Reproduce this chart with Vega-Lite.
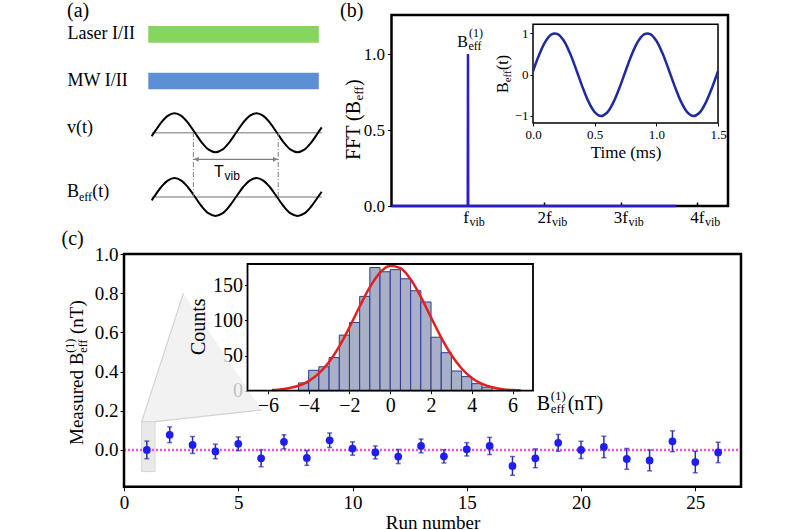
{
"$schema": "https://vega.github.io/schema/vega-lite/v6.json",
"width": 800, "height": 530, "autosize": "none", "padding": 0, "background": "white",
"config": {"font": "Liberation Serif", "view": {"stroke": null}, "text": {"font": "Liberation Serif", "color": "black"},
  "axis": {"grid": false, "domain": false, "labelFont": "Liberation Serif", "titleFont": "Liberation Serif", "labelColor": "black", "titleColor": "black", "tickColor": "black", "titleFontWeight": "normal", "labelFlush": false, "labelOverlap": false}},
"resolve": {"scale": {"x": "independent", "y": "independent", "color": "independent"}, "axis": {"x": "independent", "y": "independent"}},
"data": {"values": [{}]},
"datasets": {
 "sineA": [{"t":-0.028,"s":-0.175},{"t":0,"s":0},{"t":0.0833,"s":0.5},{"t":0.1667,"s":0.866},{"t":0.25,"s":1},{"t":0.3333,"s":0.866},{"t":0.4167,"s":0.5},{"t":0.5,"s":0},{"t":0.5833,"s":-0.5},{"t":0.6667,"s":-0.866},{"t":0.75,"s":-1},{"t":0.8333,"s":-0.866},{"t":0.9167,"s":-0.5},{"t":1,"s":0},{"t":1.0833,"s":0.5},{"t":1.1667,"s":0.866},{"t":1.25,"s":1},{"t":1.3333,"s":0.866},{"t":1.4167,"s":0.5},{"t":1.5,"s":0},{"t":1.5833,"s":-0.5},{"t":1.6667,"s":-0.866},{"t":1.75,"s":-1},{"t":1.8333,"s":-0.866},{"t":1.9167,"s":-0.5},{"t":2,"s":0},{"t":2.045,"s":0.279}],
 "sineB": [{"t":0,"b":0.084},{"t":0.05,"b":0.482},{"t":0.1,"b":0.797},{"t":0.15,"b":0.974},{"t":0.2,"b":0.982},{"t":0.25,"b":0.822},{"t":0.3,"b":0.517},{"t":0.35,"b":0.125},{"t":0.4,"b":-0.289},{"t":0.45,"b":-0.653},{"t":0.5,"b":-0.904},{"t":0.55,"b":-1.0},{"t":0.6,"b":-0.921},{"t":0.65,"b":-0.682},{"t":0.7,"b":-0.327},{"t":0.75,"b":0.084},{"t":0.8,"b":0.482},{"t":0.85,"b":0.797},{"t":0.9,"b":0.974},{"t":0.95,"b":0.982},{"t":1.0,"b":0.822},{"t":1.05,"b":0.517},{"t":1.1,"b":0.125},{"t":1.15,"b":-0.289},{"t":1.2,"b":-0.653},{"t":1.25,"b":-0.904},{"t":1.3,"b":-1.0},{"t":1.35,"b":-0.921},{"t":1.4,"b":-0.682},{"t":1.45,"b":-0.327},{"t":1.5,"b":0.084}],
 "fft": [{"f":0,"a":0},{"f":0.997,"a":0},{"f":1,"a":1},{"f":1.003,"a":0},{"f":3.72,"a":0}],
 "measured": [{"run":1,"value":0.0,"err":0.045},{"run":2,"value":0.077,"err":0.04},{"run":3,"value":0.025,"err":0.043},{"run":4,"value":-0.008,"err":0.037},{"run":5,"value":0.031,"err":0.035},{"run":6,"value":-0.043,"err":0.043},{"run":7,"value":0.041,"err":0.036},{"run":8,"value":-0.041,"err":0.038},{"run":9,"value":0.049,"err":0.037},{"run":10,"value":0.007,"err":0.034},{"run":11,"value":-0.013,"err":0.033},{"run":12,"value":-0.034,"err":0.036},{"run":13,"value":0.02,"err":0.035},{"run":14,"value":-0.033,"err":0.034},{"run":15,"value":0.003,"err":0.034},{"run":16,"value":0.02,"err":0.044},{"run":17,"value":-0.082,"err":0.048},{"run":18,"value":-0.043,"err":0.048},{"run":19,"value":0.036,"err":0.043},{"run":20,"value":0.0,"err":0.044},{"run":21,"value":0.015,"err":0.055},{"run":22,"value":-0.046,"err":0.053},{"run":23,"value":-0.054,"err":0.053},{"run":24,"value":0.044,"err":0.053},{"run":25,"value":-0.062,"err":0.055},{"run":26,"value":-0.013,"err":0.052}],
 "hist": [{"b0":-4.5,"b1":-4,"count":11},{"b0":-4,"b1":-3.5,"count":29},{"b0":-3.5,"b1":-3,"count":34},{"b0":-3,"b1":-2.5,"count":47},{"b0":-2.5,"b1":-2,"count":79},{"b0":-2,"b1":-1.5,"count":97},{"b0":-1.5,"b1":-1,"count":134},{"b0":-1,"b1":-0.5,"count":175},{"b0":-0.5,"b1":0,"count":169},{"b0":0,"b1":0.5,"count":172},{"b0":0.5,"b1":1,"count":159},{"b0":1,"b1":1.5,"count":142},{"b0":1.5,"b1":2,"count":126},{"b0":2,"b1":2.5,"count":76},{"b0":2.5,"b1":3,"count":54},{"b0":3,"b1":3.5,"count":28},{"b0":3.5,"b1":4,"count":20},{"b0":4,"b1":4.5,"count":10},{"b0":4.5,"b1":5,"count":5}],
 "gauss": [{"x":-5.8,"c":0.9},{"x":-5.5,"c":1.5},{"x":-5,"c":3.4},{"x":-4.5,"c":7.0},{"x":-4,"c":13.6},{"x":-3.5,"c":24.5},{"x":-3,"c":40.7},{"x":-2.5,"c":62.9},{"x":-2,"c":90.1},{"x":-1.5,"c":119.6},{"x":-1,"c":147.2},{"x":-0.5,"c":167.9},{"x":0,"c":177.6},{"x":0.5,"c":174.2},{"x":1,"c":158.3},{"x":1.5,"c":133.4},{"x":2,"c":104.2},{"x":2.5,"c":75.5},{"x":3,"c":50.7},{"x":3.5,"c":31.5},{"x":4,"c":18.2},{"x":4.5,"c":9.7},{"x":5,"c":4.8},{"x":5.5,"c":2.2},{"x":6,"c":0.9},{"x":6.4,"c":0.5}],
 "wedgeEdges": [{"edge":"left","r":0.775,"v":0.144},{"edge":"left","r":2.6,"v":0.8},{"edge":"bottom","r":1.357,"v":0.144},{"edge":"bottom","r":6.02,"v":0.204}]
},
"layer": [
 {"data": {"values": [{"row":"Laser I/II","t0":-0.07,"t1":2.01},{"row":"MW I/II","t0":-0.07,"t1":2.01}]},
  "mark": {"type": "rect"},
  "encoding": {"x": {"field":"t0","type":"quantitative","scale":{"domain":[0,2],"range":[154,318],"nice":false,"zero":false},"axis":null},
   "x2": {"field":"t1"},
   "y": {"field":"row","type":"nominal","scale":{"domain":["Laser I/II","MW I/II"],"range":[26,89.3],"paddingInner":0.643,"paddingOuter":0},"axis":{"orient":"left","offset":-148,"labelAlign":"left","labelPadding":81,"ticks":false,"tickSize":0,"labelFont":"Liberation Serif","labelFontSize":18,"title":null,"labelBaseline":"middle"}},
   "color": {"field":"row","type":"nominal","scale":{"domain":["Laser I/II","MW I/II"],"range":["#86d65e","#5c8fd6"]},"legend":null}}},
 {"mark": {"type":"rule","color":"#a0a0a0","strokeWidth":1.5},
  "encoding": {"x":{"datum":-0.028,"scale":{"domain":[0,2],"range":[154,318],"nice":false,"zero":false},"axis":null},"x2":{"datum":2.045},"y":{"datum":0,"scale":{"domain":[-1,1],"range":[152.3,113.3],"nice":false,"zero":false},"axis":null}}},
 {"data": {"name":"sineA"}, "mark": {"type":"line","color":"black","strokeWidth":2,"interpolate":"catmull-rom"},
  "encoding": {"x":{"field":"t","type":"quantitative","scale":{"domain":[0,2],"range":[154,318],"nice":false,"zero":false},"axis":null},"y":{"field":"s","type":"quantitative","scale":{"domain":[-1,1],"range":[152.3,113.3],"nice":false,"zero":false},"axis":null}}},
 {"mark": {"type":"rule","color":"#a0a0a0","strokeWidth":1.5},
  "encoding": {"x":{"datum":-0.028,"scale":{"domain":[0,2],"range":[154,318],"nice":false,"zero":false},"axis":null},"x2":{"datum":2.045},"y":{"datum":0,"scale":{"domain":[-1,1],"range":[216,178],"nice":false,"zero":false},"axis":null}}},
 {"data": {"name":"sineA"}, "mark": {"type":"line","color":"black","strokeWidth":2,"interpolate":"catmull-rom"},
  "encoding": {"x":{"field":"t","type":"quantitative","scale":{"domain":[0,2],"range":[154,318],"nice":false,"zero":false},"axis":null},"y":{"field":"s","type":"quantitative","scale":{"domain":[-1,1],"range":[216,178],"nice":false,"zero":false},"axis":null}}},
 {"data": {"values": [{"t":0.48},{"t":1.515}]}, "mark": {"type":"rule","color":"#808080","strokeWidth":1,"strokeDash":[5,2,1,2]},
  "encoding": {"x":{"field":"t","type":"quantitative","scale":{"domain":[0,2],"range":[154,318],"nice":false,"zero":false},"axis":null},"y":{"datum":0,"scale":{"domain":[-1,1],"range":[216,178],"nice":false,"zero":false},"axis":null},"y2":{"datum":3.37}}},
 {"mark": {"type":"rule","color":"#808080","strokeWidth":1.2},
  "encoding": {"x":{"datum":0.48,"scale":{"domain":[0,2],"range":[154,318],"nice":false,"zero":false},"axis":null},"x2":{"datum":1.515},"y":{"datum":1.984,"scale":{"domain":[-1,1],"range":[216,178],"nice":false,"zero":false},"axis":null}}},
 {"mark": {"type":"point","shape":"triangle-left","filled":true,"color":"#808080","size":28,"opacity":1,"xOffset":3},
  "encoding": {"x":{"datum":0.48,"scale":{"domain":[0,2],"range":[154,318],"nice":false,"zero":false},"axis":null},"y":{"datum":1.984,"scale":{"domain":[-1,1],"range":[216,178],"nice":false,"zero":false},"axis":null}}},
 {"mark": {"type":"point","shape":"triangle-right","filled":true,"color":"#808080","size":28,"opacity":1,"xOffset":-3},
  "encoding": {"x":{"datum":1.515,"scale":{"domain":[0,2],"range":[154,318],"nice":false,"zero":false},"axis":null},"y":{"datum":1.984,"scale":{"domain":[-1,1],"range":[216,178],"nice":false,"zero":false},"axis":null}}},
 {"mark": {"type":"text","text":"T","font":"Liberation Sans","fontSize":16,"align":"left","baseline":"alphabetic"},
  "encoding": {"x":{"datum":0.732,"scale":{"domain":[0,2],"range":[154,318],"nice":false,"zero":false},"axis":null},"y":{"datum":1.05,"scale":{"domain":[-1,1],"range":[216,178],"nice":false,"zero":false},"axis":null}}},
 {"mark": {"type":"text","text":"vib","font":"Liberation Sans","fontSize":12,"align":"left","baseline":"alphabetic","dx":10.5,"dy":3},
  "encoding": {"x":{"datum":0.732,"scale":{"domain":[0,2],"range":[154,318],"nice":false,"zero":false},"axis":null},"y":{"datum":1.05,"scale":{"domain":[-1,1],"range":[216,178],"nice":false,"zero":false},"axis":null}}},
 {"mark": {"type":"text","text":"v(t)","font":"Liberation Serif","fontSize":18,"align":"left","baseline":"alphabetic"},
  "encoding": {"x":{"datum":-1.061,"scale":{"domain":[0,2],"range":[154,318],"nice":false,"zero":false},"axis":null},"y":{"datum":0,"scale":{"domain":[-1,1],"range":[152.3,113.3],"nice":false,"zero":false},"axis":null}}},
 {"mark": {"type":"text","text":"B","font":"Liberation Serif","fontSize":18,"align":"left","baseline":"alphabetic"},
  "encoding": {"x":{"datum":-1.061,"scale":{"domain":[0,2],"range":[154,318],"nice":false,"zero":false},"axis":null},"y":{"datum":0,"scale":{"domain":[-1,1],"range":[216,178],"nice":false,"zero":false},"axis":null}}},
 {"mark": {"type":"text","text":"eff","font":"Liberation Serif","fontSize":12,"align":"left","baseline":"alphabetic","dx":12,"dy":4},
  "encoding": {"x":{"datum":-1.061,"scale":{"domain":[0,2],"range":[154,318],"nice":false,"zero":false},"axis":null},"y":{"datum":0,"scale":{"domain":[-1,1],"range":[216,178],"nice":false,"zero":false},"axis":null}}},
 {"mark": {"type":"text","text":"(t)","font":"Liberation Serif","fontSize":18,"align":"left","baseline":"alphabetic","dx":25.3},
  "encoding": {"x":{"datum":-1.061,"scale":{"domain":[0,2],"range":[154,318],"nice":false,"zero":false},"axis":null},"y":{"datum":0,"scale":{"domain":[-1,1],"range":[216,178],"nice":false,"zero":false},"axis":null}}},
 {"mark": {"type":"text","text":"(a)","font":"Liberation Serif","fontSize":20,"align":"left","baseline":"alphabetic"},
  "encoding": {"x":{"datum":-1.061,"scale":{"domain":[0,2],"range":[154,318],"nice":false,"zero":false},"axis":null},"y":{"datum":5.938,"scale":{"domain":[-1,1],"range":[152.3,113.3],"nice":false,"zero":false},"axis":null}}},

 {"mark": {"type":"rect","fill":"white","fillOpacity":0,"stroke":"black","strokeWidth":2.5},
  "encoding": {"x":{"datum":0,"scale":{"domain":[0,4.4],"range":[391.5,728],"nice":false,"zero":false},"axis":null},"x2":{"datum":4.4},"y":{"datum":0,"scale":{"domain":[0,1.257],"range":[206,15],"nice":false,"zero":false},"axis":null},"y2":{"datum":1.257}}},
 {"data": {"name":"fft"}, "mark": {"type":"line","color":"#2b1bd1","strokeWidth":2.5},
  "encoding": {"x":{"field":"f","type":"quantitative","scale":{"domain":[0,4.4],"range":[391.5,728],"nice":false,"zero":false},"axis":{"orient":"bottom","offset":-324,"values":[2,3,4],"labels":false,"tickSize":-4,"tickWidth":1.5,"title":null}},
   "y":{"field":"a","type":"quantitative","scale":{"domain":[0,1.257],"range":[206,15],"nice":false,"zero":false},"axis":{"orient":"left","offset":-391.5,"values":[0,0.5,1],"format":".1f","labelFont":"Liberation Serif","labelFontSize":17,"tickSize":4,"labelPadding":3,"title":null}}}},
 {"mark": {"type":"text","text":"B","font":"Liberation Serif","fontSize":16,"align":"right","baseline":"alphabetic"},
  "encoding": {"x":{"datum":1,"scale":{"domain":[0,4.4],"range":[391.5,728],"nice":false,"zero":false},"axis":null},"y":{"datum":1.0464,"scale":{"domain":[0,1.257],"range":[206,15],"nice":false,"zero":false},"axis":null}}},
 {"mark": {"type":"text","text":"eff","font":"Liberation Serif","fontSize":12,"align":"left","baseline":"alphabetic","dx":0.5,"dy":2.5},
  "encoding": {"x":{"datum":1,"scale":{"domain":[0,4.4],"range":[391.5,728],"nice":false,"zero":false},"axis":null},"y":{"datum":1.0464,"scale":{"domain":[0,1.257],"range":[206,15],"nice":false,"zero":false},"axis":null}}},
 {"mark": {"type":"text","text":"(1)","font":"Liberation Serif","fontSize":12,"align":"left","baseline":"alphabetic","dx":1,"dy":-10},
  "encoding": {"x":{"datum":1,"scale":{"domain":[0,4.4],"range":[391.5,728],"nice":false,"zero":false},"axis":null},"y":{"datum":1.0464,"scale":{"domain":[0,1.257],"range":[206,15],"nice":false,"zero":false},"axis":null}}},
 {"mark": {"type":"text","text":"f","font":"Liberation Serif","fontSize":17,"align":"right","baseline":"alphabetic","dx":1},
  "encoding": {"x":{"datum":1,"scale":{"domain":[0,4.4],"range":[391.5,728],"nice":false,"zero":false},"axis":null},"y":{"datum":-0.1099,"scale":{"domain":[0,1.257],"range":[206,15],"nice":false,"zero":false},"axis":null}}},
 {"mark": {"type":"text","text":"vib","font":"Liberation Serif","fontSize":12,"align":"left","baseline":"alphabetic","dx":1.5,"dy":3.5},
  "encoding": {"x":{"datum":1,"scale":{"domain":[0,4.4],"range":[391.5,728],"nice":false,"zero":false},"axis":null},"y":{"datum":-0.1099,"scale":{"domain":[0,1.257],"range":[206,15],"nice":false,"zero":false},"axis":null}}},
 {"data": {"values": [{"k":2,"lab":"2f"},{"k":3,"lab":"3f"},{"k":4,"lab":"4f"}]},
  "mark": {"type":"text","font":"Liberation Serif","fontSize":17,"align":"center","baseline":"alphabetic"},
  "encoding": {"text":{"field":"lab"},"x":{"field":"k","type":"quantitative","scale":{"domain":[0,4.4],"range":[391.5,728],"nice":false,"zero":false},"axis":null},"y":{"datum":-0.1099,"scale":{"domain":[0,1.257],"range":[206,15],"nice":false,"zero":false},"axis":null}}},
 {"data": {"values": [{"k":2},{"k":3},{"k":4}]},
  "mark": {"type":"text","text":"vib","font":"Liberation Serif","fontSize":12,"align":"left","baseline":"alphabetic","dx":7.5,"dy":3.5},
  "encoding": {"x":{"field":"k","type":"quantitative","scale":{"domain":[0,4.4],"range":[391.5,728],"nice":false,"zero":false},"axis":null},"y":{"datum":-0.1099,"scale":{"domain":[0,1.257],"range":[206,15],"nice":false,"zero":false},"axis":null}}},
 {"mark": {"type":"text","text":"FFT (B","font":"Liberation Serif","fontSize":20,"align":"left","baseline":"alphabetic","angle":-90},
  "encoding": {"x":{"datum":-0.412,"scale":{"domain":[0,4.4],"range":[391.5,728],"nice":false,"zero":false},"axis":null},"y":{"datum":0.3027,"scale":{"domain":[0,1.257],"range":[206,15],"nice":false,"zero":false},"axis":null}}},
 {"mark": {"type":"text","text":"eff","font":"Liberation Serif","fontSize":13,"align":"left","baseline":"alphabetic","angle":-90,"dx":59.5,"dy":3},
  "encoding": {"x":{"datum":-0.412,"scale":{"domain":[0,4.4],"range":[391.5,728],"nice":false,"zero":false},"axis":null},"y":{"datum":0.3027,"scale":{"domain":[0,1.257],"range":[206,15],"nice":false,"zero":false},"axis":null}}},
 {"mark": {"type":"text","text":")","font":"Liberation Serif","fontSize":20,"align":"left","baseline":"alphabetic","angle":-90,"dx":74},
  "encoding": {"x":{"datum":-0.412,"scale":{"domain":[0,4.4],"range":[391.5,728],"nice":false,"zero":false},"axis":null},"y":{"datum":0.3027,"scale":{"domain":[0,1.257],"range":[206,15],"nice":false,"zero":false},"axis":null}}},
 {"mark": {"type":"text","text":"(b)","font":"Liberation Serif","fontSize":20,"align":"left","baseline":"alphabetic"},
  "encoding": {"x":{"datum":-0.673,"scale":{"domain":[0,4.4],"range":[391.5,728],"nice":false,"zero":false},"axis":null},"y":{"datum":1.244,"scale":{"domain":[0,1.257],"range":[206,15],"nice":false,"zero":false},"axis":null}}},

 {"mark": {"type":"rect","fill":"white","stroke":"black","strokeWidth":1.5},
  "encoding": {"x":{"datum":0,"scale":{"domain":[0,1.5],"range":[533,718],"nice":false,"zero":false},"axis":null},"x2":{"datum":1.5},"y":{"datum":-1.17,"scale":{"domain":[-1.17,1.22],"range":[123,24.3],"nice":false,"zero":false},"axis":null},"y2":{"datum":1.22}}},
 {"data": {"name":"sineB"}, "mark": {"type":"line","color":"#1f2a9e","strokeWidth":2.5,"interpolate":"catmull-rom"},
  "encoding": {"x":{"field":"t","type":"quantitative","scale":{"domain":[0,1.5],"range":[533,718],"nice":false,"zero":false},"axis":{"orient":"bottom","offset":-407,"values":[0,0.5,1,1.5],"format":".1f","labelFont":"Liberation Serif","titleFont":"Liberation Serif","labelFontSize":13,"tickSize":3,"labelPadding":2,"title":"Time (ms)","titleFontSize":17,"titlePadding":3}},
   "y":{"field":"b","type":"quantitative","scale":{"domain":[-1.17,1.22],"range":[123,24.3],"nice":false,"zero":false},"axis":{"orient":"left","offset":-533,"values":[-1,0,1],"labelFont":"Liberation Serif","labelFontSize":13,"tickSize":3,"labelPadding":2,"title":null}}}},
 {"mark": {"type":"text","text":"B","font":"Liberation Serif","fontSize":16,"align":"left","baseline":"alphabetic","angle":-90},
  "encoding": {"x":{"datum":-0.2027,"scale":{"domain":[0,1.5],"range":[533,718],"nice":false,"zero":false},"axis":null},"y":{"datum":-0.4436,"scale":{"domain":[-1.17,1.22],"range":[123,24.3],"nice":false,"zero":false},"axis":null}}},
 {"mark": {"type":"text","text":"eff","font":"Liberation Serif","fontSize":11,"align":"left","baseline":"alphabetic","angle":-90,"dx":10.7,"dy":3},
  "encoding": {"x":{"datum":-0.2027,"scale":{"domain":[0,1.5],"range":[533,718],"nice":false,"zero":false},"axis":null},"y":{"datum":-0.4436,"scale":{"domain":[-1.17,1.22],"range":[123,24.3],"nice":false,"zero":false},"axis":null}}},
 {"mark": {"type":"text","text":"(t)","font":"Liberation Serif","fontSize":16,"align":"left","baseline":"alphabetic","angle":-90,"dx":23},
  "encoding": {"x":{"datum":-0.2027,"scale":{"domain":[0,1.5],"range":[533,718],"nice":false,"zero":false},"axis":null},"y":{"datum":-0.4436,"scale":{"domain":[-1.17,1.22],"range":[123,24.3],"nice":false,"zero":false},"axis":null}}},

 {"data": {"values": [{"r":0.775,"lo":0.144,"hi":0.144},{"r":1.357,"lo":0.144,"hi":0.353},{"r":2.6,"lo":0.16,"hi":0.8},{"r":6.02,"lo":0.204,"hi":0.204}]},
  "mark": {"type":"area","color":"#efefef","opacity":0.8},
  "encoding": {"x":{"field":"r","type":"quantitative","scale":{"domain":[0,27],"range":[124,741],"nice":false,"zero":false},"axis":null},"y":{"field":"hi","type":"quantitative","scale":{"domain":[-0.188,1],"range":[486.7,254],"nice":false,"zero":false},"axis":null},"y2":{"field":"lo"}}},
 {"data": {"name":"wedgeEdges"}, "mark": {"type":"line","color":"#d2d2d2","strokeWidth":1.2},
  "encoding": {"detail":{"field":"edge"},"x":{"field":"r","type":"quantitative","scale":{"domain":[0,27],"range":[124,741],"nice":false,"zero":false},"axis":null},"y":{"field":"v","type":"quantitative","scale":{"domain":[-0.188,1],"range":[486.7,254],"nice":false,"zero":false},"axis":null}}},
 {"mark": {"type":"rect","fill":"#e9e9e9","stroke":"#d6d6d6","strokeWidth":1},
  "encoding": {"x":{"datum":0.775,"scale":{"domain":[0,27],"range":[124,741],"nice":false,"zero":false},"axis":null},"x2":{"datum":1.357},"y":{"datum":-0.111,"scale":{"domain":[-0.188,1],"range":[486.7,254],"nice":false,"zero":false},"axis":null},"y2":{"datum":0.144}}},
 {"mark": {"type":"rule","color":"#f050f0","strokeWidth":2.5,"strokeDash":[2,2]},
  "encoding": {"x":{"datum":0,"scale":{"domain":[0,27],"range":[124,741],"nice":false,"zero":false},"axis":null},"x2":{"datum":27},"y":{"datum":0,"scale":{"domain":[-0.188,1],"range":[486.7,254],"nice":false,"zero":false},"axis":null}}},
 {"data": {"name":"measured"}, "mark": {"type":"errorbar","ticks":true,"color":"#2a2ab5","thickness":1.5},
  "encoding": {"x":{"field":"run","type":"quantitative","scale":{"domain":[0,27],"range":[124,741],"nice":false,"zero":false},"axis":null},"y":{"field":"value","type":"quantitative","scale":{"domain":[-0.188,1],"range":[486.7,254],"nice":false,"zero":false},"axis":null},"yError":{"field":"err"}}},
 {"data": {"name":"measured"}, "mark": {"type":"circle","size":60,"color":"#1e1ef0","opacity":1},
  "encoding": {"x":{"field":"run","type":"quantitative","scale":{"domain":[0,27],"range":[124,741],"nice":false,"zero":false},"axis":{"orient":"bottom","offset":-43.3,"values":[0,5,10,15,20,25],"labelFont":"Liberation Serif","titleFont":"Liberation Serif","labelFontSize":19,"tickSize":4,"labelPadding":3,"title":"Run number","titleFontSize":19,"titlePadding":1}},
   "y":{"field":"value","type":"quantitative","scale":{"domain":[-0.188,1],"range":[486.7,254],"nice":false,"zero":false},"axis":{"orient":"left","offset":-124,"values":[0,0.2,0.4,0.6,0.8,1],"format":".1f","labelFont":"Liberation Serif","labelFontSize":19,"tickSize":4,"labelPadding":2,"title":null}}}},
 {"mark": {"type":"rect","fill":"white","fillOpacity":0,"stroke":"black","strokeWidth":2.5},
  "encoding": {"x":{"datum":0,"scale":{"domain":[0,27],"range":[124,741],"nice":false,"zero":false},"axis":null},"x2":{"datum":27},"y":{"datum":-0.188,"scale":{"domain":[-0.188,1],"range":[486.7,254],"nice":false,"zero":false},"axis":null},"y2":{"datum":1}}},
 {"mark": {"type":"text","text":"Measured B","font":"Liberation Serif","fontSize":19,"align":"left","baseline":"alphabetic","angle":-90},
  "encoding": {"x":{"datum":-1.794,"scale":{"domain":[0,27],"range":[124,741],"nice":false,"zero":false},"axis":null},"y":{"datum":0.0249,"scale":{"domain":[-0.188,1],"range":[486.7,254],"nice":false,"zero":false},"axis":null}}},
 {"mark": {"type":"text","text":"eff","font":"Liberation Serif","fontSize":12,"align":"left","baseline":"alphabetic","angle":-90,"dx":92.3,"dy":4},
  "encoding": {"x":{"datum":-1.794,"scale":{"domain":[0,27],"range":[124,741],"nice":false,"zero":false},"axis":null},"y":{"datum":0.0249,"scale":{"domain":[-0.188,1],"range":[486.7,254],"nice":false,"zero":false},"axis":null}}},
 {"mark": {"type":"text","text":"(1)","font":"Liberation Serif","fontSize":12,"align":"left","baseline":"alphabetic","angle":-90,"dx":92.3,"dy":-9},
  "encoding": {"x":{"datum":-1.794,"scale":{"domain":[0,27],"range":[124,741],"nice":false,"zero":false},"axis":null},"y":{"datum":0.0249,"scale":{"domain":[-0.188,1],"range":[486.7,254],"nice":false,"zero":false},"axis":null}}},
 {"mark": {"type":"text","text":"(nT)","font":"Liberation Serif","fontSize":19,"align":"left","baseline":"alphabetic","angle":-90,"dx":111},
  "encoding": {"x":{"datum":-1.794,"scale":{"domain":[0,27],"range":[124,741],"nice":false,"zero":false},"axis":null},"y":{"datum":0.0249,"scale":{"domain":[-0.188,1],"range":[486.7,254],"nice":false,"zero":false},"axis":null}}},
 {"mark": {"type":"text","text":"(c)","font":"Liberation Serif","fontSize":20,"align":"left","baseline":"alphabetic"},
  "encoding": {"x":{"datum":-2.735,"scale":{"domain":[0,27],"range":[124,741],"nice":false,"zero":false},"axis":null},"y":{"datum":1.046,"scale":{"domain":[-0.188,1],"range":[486.7,254],"nice":false,"zero":false},"axis":null}}},

 {"mark": {"type":"rect","fill":"white"},
  "encoding": {"x":{"datum":-7,"scale":{"domain":[-7,7],"range":[247.5,533],"nice":false,"zero":false},"axis":null},"x2":{"datum":7},"y":{"datum":0,"scale":{"domain":[0,180],"range":[390.7,264],"nice":false,"zero":false},"axis":null},"y2":{"datum":180}}},
 {"data": {"name":"hist"}, "mark": {"type":"rect","fill":"#a9afc6","stroke":"#2b3a95","strokeWidth":1},
  "encoding": {"x":{"field":"b0","type":"quantitative","scale":{"domain":[-7,7],"range":[247.5,533],"nice":false,"zero":false},"axis":{"orient":"bottom","offset":-139.3,"values":[-6,-4,-2,0,2,4,6],"labelFont":"Liberation Serif","labelFontSize":20,"tickSize":3,"labelPadding":2,"title":null}},
   "x2":{"field":"b1"},
   "y":{"field":"count","type":"quantitative","scale":{"domain":[0,180],"range":[390.7,264],"nice":false,"zero":false},"axis":{"orient":"left","offset":-247.5,"values":[0,50,100,150],"labelFont":"Liberation Serif","labelFontSize":20,"tickSize":3,"labelPadding":2,"title":null}},
   "y2":{"datum":0}}},
 {"data": {"name":"gauss"}, "mark": {"type":"line","color":"#e3201f","strokeWidth":2.5,"interpolate":"monotone"},
  "encoding": {"x":{"field":"x","type":"quantitative","scale":{"domain":[-7,7],"range":[247.5,533],"nice":false,"zero":false},"axis":null},"y":{"field":"c","type":"quantitative","scale":{"domain":[0,180],"range":[390.7,264],"nice":false,"zero":false},"axis":null}}},
 {"mark": {"type":"rect","fill":"white","fillOpacity":0,"stroke":"black","strokeWidth":1.8},
  "encoding": {"x":{"datum":-7,"scale":{"domain":[-7,7],"range":[247.5,533],"nice":false,"zero":false},"axis":null},"x2":{"datum":7},"y":{"datum":0,"scale":{"domain":[0,180],"range":[390.7,264],"nice":false,"zero":false},"axis":null},"y2":{"datum":180}}},
 {"mark": {"type":"text","text":"Counts","font":"Liberation Serif","fontSize":20,"align":"center","baseline":"alphabetic","angle":-90},
  "encoding": {"x":{"datum":-9.084,"scale":{"domain":[-7,7],"range":[247.5,533],"nice":false,"zero":false},"axis":null},"y":{"datum":90.9,"scale":{"domain":[0,180],"range":[390.7,264],"nice":false,"zero":false},"axis":null}}},
 {"mark": {"type":"text","text":"B","font":"Liberation Serif","fontSize":20,"align":"left","baseline":"alphabetic"},
  "encoding": {"x":{"datum":7.181,"scale":{"domain":[-7,7],"range":[247.5,533],"nice":false,"zero":false},"axis":null},"y":{"datum":-27.4,"scale":{"domain":[0,180],"range":[390.7,264],"nice":false,"zero":false},"axis":null}}},
 {"mark": {"type":"text","text":"eff","font":"Liberation Serif","fontSize":13,"align":"left","baseline":"alphabetic","dx":14,"dy":3},
  "encoding": {"x":{"datum":7.181,"scale":{"domain":[-7,7],"range":[247.5,533],"nice":false,"zero":false},"axis":null},"y":{"datum":-27.4,"scale":{"domain":[0,180],"range":[390.7,264],"nice":false,"zero":false},"axis":null}}},
 {"mark": {"type":"text","text":"(1)","font":"Liberation Serif","fontSize":13,"align":"left","baseline":"alphabetic","dx":14,"dy":-10},
  "encoding": {"x":{"datum":7.181,"scale":{"domain":[-7,7],"range":[247.5,533],"nice":false,"zero":false},"axis":null},"y":{"datum":-27.4,"scale":{"domain":[0,180],"range":[390.7,264],"nice":false,"zero":false},"axis":null}}},
 {"mark": {"type":"text","text":"(nT)","font":"Liberation Serif","fontSize":20,"align":"left","baseline":"alphabetic","dx":31},
  "encoding": {"x":{"datum":7.181,"scale":{"domain":[-7,7],"range":[247.5,533],"nice":false,"zero":false},"axis":null},"y":{"datum":-27.4,"scale":{"domain":[0,180],"range":[390.7,264],"nice":false,"zero":false},"axis":null}}}
]
}
